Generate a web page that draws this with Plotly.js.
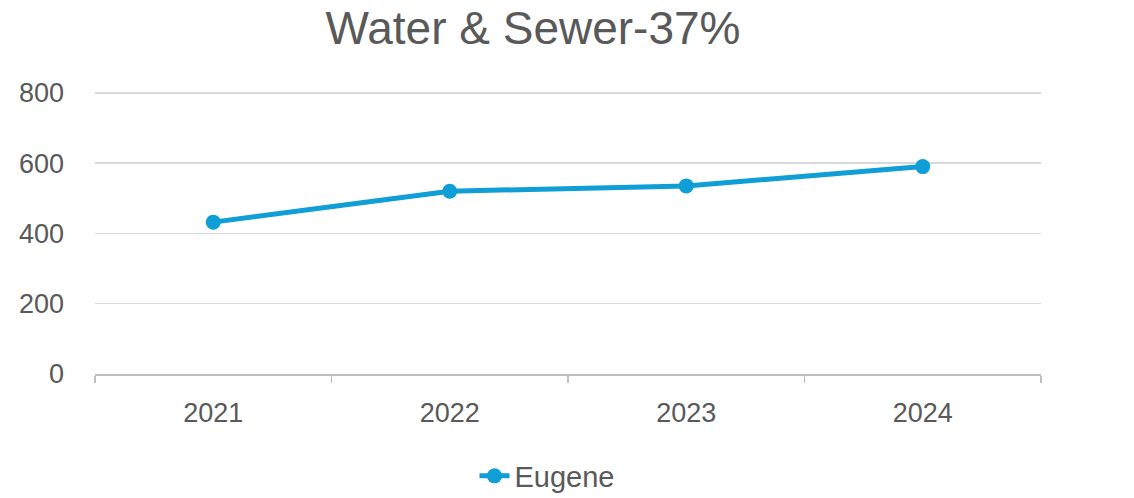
<!DOCTYPE html>
<html>
<head>
<meta charset="utf-8">
<script src="https://cdn.plot.ly/plotly-3.0.1.min.js"></script>
<style>html,body{margin:0;padding:0;background:#fff;}#chart{width:1134px;height:498px;}</style>
</head>
<body>
<div id="chart"></div>
<script>
const years = ['2021', '2022', '2023', '2024'];
const eugene = [432, 520, 535, 590];
const yTicks = [0, 200, 400, 600, 800];
const chartTitle = 'Water & Sewer-37%';
const seriesName = 'Eugene';

const FONT = 'Liberation Sans, Arial, sans-serif';
const GRAY = '#595959';

Plotly.newPlot('chart', [{
  x: years,
  y: eugene,
  name: seriesName,
  type: 'scatter',
  mode: 'lines+markers',
  line: {color: '#0F9ED5', width: 5},
  marker: {color: '#0F9ED5', size: 15}
}], {
  width: 1134,
  height: 498,
  margin: {l: 95, r: 93, t: 91, b: 124, autoexpand: false},
  paper_bgcolor: '#ffffff',
  plot_bgcolor: '#ffffff',
  font: {family: FONT, color: GRAY, size: 27},
  title: {
    text: chartTitle,
    font: {family: FONT, size: 46, color: GRAY},
    xref: 'container', x: 533 / 1134, xanchor: 'center',
    yref: 'container', y: 1 - 28 / 498, yanchor: 'middle'
  },
  xaxis: {
    type: 'category',
    range: [-0.5, 3.5],
    tickson: 'boundaries',
    ticks: 'outside',
    ticklen: 7,
    tickwidth: 1.5,
    tickcolor: '#BFBFBF',
    showline: true,
    linecolor: '#BFBFBF',
    linewidth: 1.5,
    showgrid: false,
    tickfont: {family: FONT, size: 27, color: GRAY},
    ticklabelstandoff: 14
  },
  yaxis: {
    range: [0, 805],
    tickvals: yTicks,
    ticktext: yTicks.map(String),
    showgrid: true,
    gridcolor: '#D9D9D9',
    gridwidth: 1.5,
    zeroline: false,
    showline: false,
    ticks: '',
    tickfont: {family: FONT, size: 27, color: GRAY},
    ticklabelstandoff: 30
  },
  showlegend: true,
  legend: {
    orientation: 'h',
    x: (547 - 95) / 946, xanchor: 'center',
    y: (374 - 476) / 283, yanchor: 'middle',
    font: {family: FONT, size: 29, color: GRAY}
  }
}, {displayModeBar: false, staticPlot: true});
</script>
</body>
</html>
